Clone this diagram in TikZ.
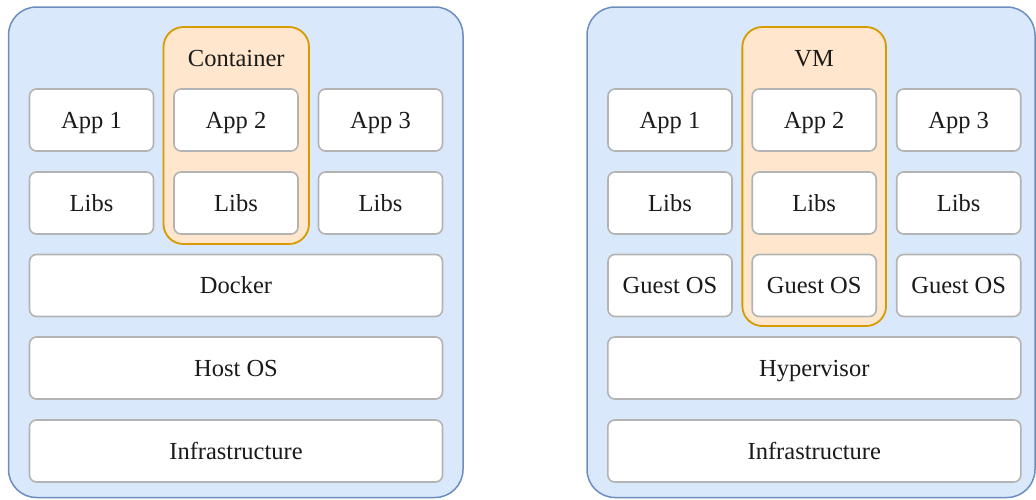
\documentclass[tikz,border=0pt]{standalone}
\usepackage{fontspec}
\setmainfont{Liberation Serif}
\definecolor{panelfill}{HTML}{DAE8FC}
\definecolor{panelline}{HTML}{6C8EBF}
\definecolor{contfill}{HTML}{FFE6CC}
\definecolor{contline}{HTML}{D79B00}
\definecolor{boxline}{HTML}{B3B3B3}
\definecolor{txt}{HTML}{1A1A1A}
\begin{document}
\begin{tikzpicture}[x=1pt,y=-1pt,
  panel/.style={draw=panelline, fill=panelfill, line width=1.5pt, rounded corners=28pt, inner sep=0pt, outer sep=0pt},
  cont/.style={draw=contline, fill=contfill, line width=1.8pt, rounded corners=20pt, inner sep=0pt, outer sep=0pt},
  box/.style={draw=boxline, fill=white, line width=1.6pt, rounded corners=7pt, inner sep=0pt, outer sep=0pt,
    minimum height=62pt, text=txt, font=\fontsize{24.5}{28}\selectfont, text height=16.5pt, text depth=0pt},
  small/.style={box, minimum width=124pt},
  wide/.style={box, minimum width=413pt},
  lbl/.style={text=txt, font=\fontsize{24.5}{28}\selectfont, inner sep=0pt, text height=16.5pt, text depth=0pt}
]
\useasboundingbox (0,0) rectangle (1036,499);
% panels
\node[panel, minimum width=454.5pt, minimum height=490.5pt] (lp) at (235.75,252.25) {};
\node[panel, minimum width=448pt, minimum height=490.5pt] (rp) at (811,252.25) {};
% containers
\node[cont, minimum width=145.5pt, minimum height=217pt] (cont) at (236.25,135.5) {};
\node[cont, minimum width=143.7pt, minimum height=299pt] (vm) at (814.2,176.5) {};
\node[lbl] (contlbl) at (236.25,58) {Container};
\node[lbl] (vmlbl) at (814.2,58) {VM};
% left boxes
\node[small] (la1) at (91.5,120) {App 1};
\node[small] (la2) at (236,120) {App 2};
\node[small] (la3) at (380.5,120) {App 3};
\node[small] (ll1) at (91.5,203) {Libs};
\node[small] (ll2) at (236,203) {Libs};
\node[small] (ll3) at (380.5,203) {Libs};
\node[wide] (docker) at (236,285.5) {Docker};
\node[wide] (host) at (236,368) {Host OS};
\node[wide] (linfra) at (236,451) {Infrastructure};
% right boxes
\node[small] (ra1) at (670,120) {App 1};
\node[small] (ra2) at (814.2,120) {App 2};
\node[small] (ra3) at (958.7,120) {App 3};
\node[small] (rl1) at (670,203) {Libs};
\node[small] (rl2) at (814.2,203) {Libs};
\node[small] (rl3) at (958.7,203) {Libs};
\node[small] (rg1) at (670,285.5) {Guest OS};
\node[small] (rg2) at (814.2,285.5) {Guest OS};
\node[small] (rg3) at (958.7,285.5) {Guest OS};
\node[wide] (hyper) at (814.3,368) {Hypervisor};
\node[wide] (rinfra) at (814.3,451) {Infrastructure};
\end{tikzpicture}
\end{document}
